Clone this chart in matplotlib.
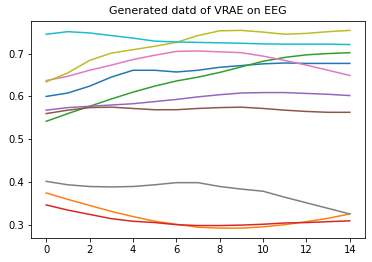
import numpy as np
import matplotlib
matplotlib.use("Agg")
import matplotlib.pyplot as plt

steps = np.arange(15)

# one row per generated sequence, in tab10 colour order
blue = [0.600, 0.608, 0.624, 0.645, 0.661, 0.661, 0.657, 0.661, 0.668, 0.672, 0.676, 0.678, 0.677, 0.677, 0.677]
orange = [0.375, 0.360, 0.346, 0.332, 0.320, 0.309, 0.302, 0.295, 0.293, 0.293, 0.296, 0.301, 0.308, 0.316, 0.326]
green = [0.542, 0.560, 0.577, 0.594, 0.610, 0.624, 0.636, 0.645, 0.656, 0.669, 0.682, 0.691, 0.697, 0.700, 0.702]
red = [0.347, 0.335, 0.325, 0.315, 0.309, 0.306, 0.301, 0.299, 0.299, 0.300, 0.302, 0.305, 0.306, 0.308, 0.310]
purple = [0.568, 0.574, 0.577, 0.580, 0.583, 0.588, 0.593, 0.599, 0.604, 0.608, 0.609, 0.609, 0.607, 0.605, 0.602]
brown = [0.560, 0.568, 0.574, 0.575, 0.572, 0.569, 0.569, 0.572, 0.574, 0.575, 0.572, 0.568, 0.565, 0.563, 0.563]
pink = [0.637, 0.647, 0.661, 0.673, 0.686, 0.696, 0.705, 0.706, 0.704, 0.702, 0.694, 0.684, 0.673, 0.661, 0.649]
gray = [0.402, 0.394, 0.390, 0.389, 0.390, 0.394, 0.399, 0.399, 0.390, 0.384, 0.379, 0.365, 0.352, 0.339, 0.326]
olive = [0.634, 0.655, 0.684, 0.701, 0.709, 0.717, 0.726, 0.742, 0.753, 0.754, 0.750, 0.745, 0.747, 0.751, 0.754]
cyan = [0.745, 0.751, 0.748, 0.742, 0.736, 0.729, 0.727, 0.726, 0.725, 0.724, 0.7225, 0.722, 0.722, 0.722, 0.721]

series = [blue, orange, green, red, purple, brown, pink, gray, olive, cyan]

fig = plt.figure(figsize=(372 / 72, 262 / 72), dpi=72)
ax = fig.add_axes([31 / 372, 1 - 238 / 262, 334 / 372, 217.5 / 262])
for s in series:
    ax.plot(steps, s)
ax.set_title("Generated datd of VRAE on EEG", fontsize=11)
ax.set_xticks([0, 2, 4, 6, 8, 10, 12, 14])

fig.savefig("out.png", dpi=72)
